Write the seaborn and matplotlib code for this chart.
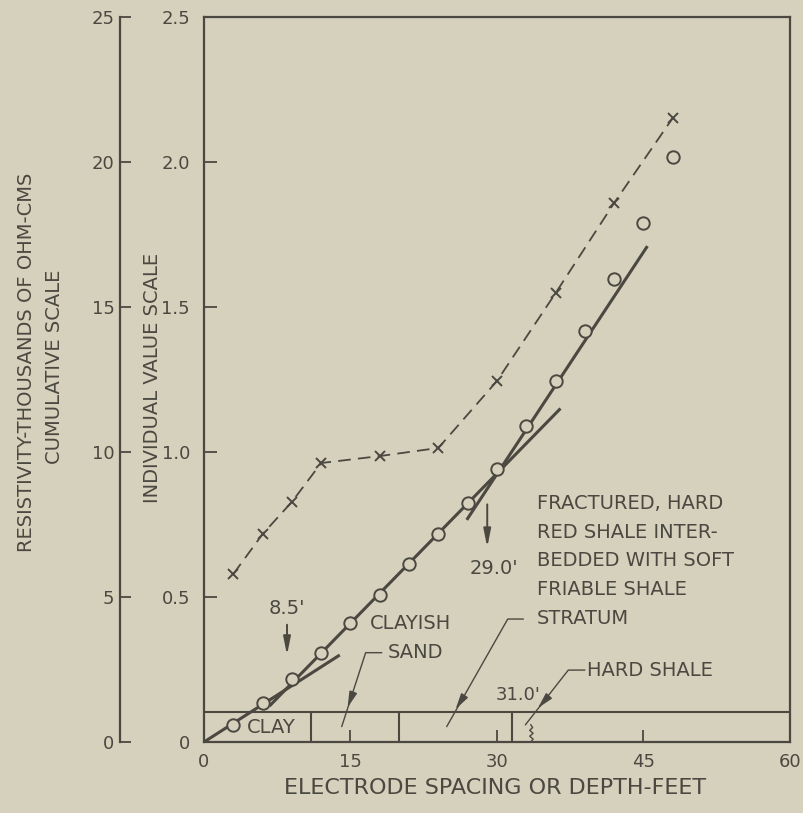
import numpy as np
import pandas as pd
import seaborn as sns
import matplotlib.pyplot as plt

# cumulative resistivity (open circles) - plotted on the individual scale (x10 = cumulative)
depth_cum = [3, 6, 9, 12, 15, 18, 21, 24, 27, 30, 33, 36, 39, 42, 45, 48]
cum_values = [0.059, 0.134, 0.217, 0.307, 0.410, 0.507, 0.614, 0.717, 0.824,
              0.941, 1.090, 1.245, 1.417, 1.597, 1.790, 2.017]

# individual values (x marks, dashed)
depth_ind = [3, 6, 9, 12, 18, 24, 30, 36, 42, 48]
ind_values = [0.579, 0.717, 0.828, 0.962, 0.986, 1.014, 1.245, 1.548, 1.859, 2.152]

# straight-line fits drawn through the cumulative points
clay_fit_x, clay_fit_y = [0, 13.9], [0, 0.30]
sand_fit_x, sand_fit_y = [6.7, 36.5], [0.124, 1.15]
shale_fit_x, shale_fit_y = [26.9, 45.4], [0.766, 1.71]

# strata strip at the bottom
strip_top = 0.103
strata_bounds = [11, 20, 31.5]

x_ticks = [0, 15, 30, 45, 60]
y_ticks = [0, 0.5, 1.0, 1.5, 2.0, 2.5]
y_ticklabels = ["0", "0.5", "1.0", "1.5", "2.0", "2.5"]
cum_ticks = [0, 5, 10, 15, 20, 25]

bg = "#d6d1bd"
ink = "#4a4840"

sns.set_theme(style="ticks")
plt.rcParams["font.family"] = ["DejaVu Sans"]
plt.rcParams["text.color"] = ink
plt.rcParams["axes.edgecolor"] = ink
plt.rcParams["xtick.color"] = ink
plt.rcParams["ytick.color"] = ink

fig = plt.figure(figsize=(8.04, 8.13), dpi=100, facecolor=bg)
W, H = 804, 813
bottom = (H - 742) / H
height = (742 - 17) / H
ax = fig.add_axes([204 / W, bottom, 586 / W, height])
ax.set_facecolor(bg)

# individual value curve
sns.lineplot(x=depth_ind, y=ind_values, ax=ax, color=ink, linewidth=1.3,
             linestyle=(0, (7, 4)), marker="x", markersize=6.5,
             markeredgewidth=1.4, markeredgecolor=ink, sort=False)

# fitted lines
for fx, fy in [(clay_fit_x, clay_fit_y), (sand_fit_x, sand_fit_y), (shale_fit_x, shale_fit_y)]:
    ax.plot(fx, fy, color=ink, linewidth=2.2, solid_capstyle="butt", zorder=3)

# cumulative points
sns.scatterplot(x=depth_cum, y=cum_values, ax=ax, marker="o", s=80,
                facecolor=bg, edgecolor=ink, linewidth=1.4, zorder=5)

# strata strip
ax.axhline(strip_top, color=ink, linewidth=1.5, zorder=2)
ax.vlines(strata_bounds, 0, strip_top, color=ink, linewidth=1.5, zorder=2)
ax.text(6.9, 0.05, "CLAY", fontsize=14, ha="center", va="center")

# small fracture squiggle under the hard-shale leader
sq_y = np.linspace(0, 0.06, 7)
sq_x = 33.45 + np.array([0, 0.25, -0.1, 0.25, -0.1, 0.2, 0])
ax.plot(sq_x, sq_y, color=ink, linewidth=1.0)

# depth arrows
arr = dict(arrowstyle="-|>,head_length=0.9,head_width=0.18", color=ink, lw=1.4)
ax.annotate("", xy=(8.5, 0.29), xytext=(8.5, 0.414), arrowprops=arr)
ax.text(8.5, 0.462, "8.5'", fontsize=14, ha="center", va="center")
ax.annotate("", xy=(29.0, 0.662), xytext=(29.0, 0.829), arrowprops=arr)
ax.text(29.7, 0.597, "29.0'", fontsize=14, ha="center", va="center")

# labels with leaders
ax.text(17.0, 0.41, "CLAYISH", fontsize=14, ha="left", va="center")
ax.text(18.8, 0.31, "SAND", fontsize=14, ha="left", va="center")
frac_lines = ["FRACTURED, HARD", "RED SHALE INTER-", "BEDDED WITH SOFT",
              "FRIABLE SHALE", "STRATUM"]
for i, line in enumerate(frac_lines):
    ax.text(34.1, 0.823 - i * 0.099, line, fontsize=14, ha="left", va="center")
ax.text(39.2, 0.248, "HARD SHALE", fontsize=14, ha="left", va="center")
ax.text(29.9, 0.162, "31.0'", fontsize=13, ha="left", va="center")

leaders = [
    ([18.2, 16.55, 14.1], [0.308, 0.308, 0.053], (14.6, 0.11)),
    ([32.7, 31.1, 24.85], [0.424, 0.424, 0.053], (25.6, 0.105)),
    ([39.0, 37.3, 32.9], [0.248, 0.248, 0.059], (34.0, 0.11)),
]
lead_arr = dict(arrowstyle="-|>,head_length=0.8,head_width=0.2", color=ink, lw=1.0)
for lx, ly, tip in leaders:
    ax.plot(lx, ly, color=ink, linewidth=1.0)
    t = (tip[0] - lx[1]) / (lx[2] - lx[1])
    start = (lx[1] + (t - 0.15) * (lx[2] - lx[1]), ly[1] + (t - 0.15) * (ly[2] - ly[1]))
    ax.annotate("", xy=tip, xytext=start, arrowprops=lead_arr)

# main axes styling
ax.set_xlim(0, 60)
ax.set_ylim(0, 2.5)
ax.set_xticks(x_ticks)
ax.set_xticklabels([str(v) for v in x_ticks])
ax.set_yticks(y_ticks)
ax.set_yticklabels(y_ticklabels)
ax.tick_params(axis="x", direction="in", length=9, width=1.3, pad=8, labelsize=13)
ax.tick_params(axis="y", direction="in", length=9, width=1.3, pad=10, labelsize=13)
for sp in ax.spines.values():
    sp.set_visible(True)
    sp.set_linewidth(1.6)
ax.set_xlabel("")
ax.set_ylabel("")

# cumulative scale axis on the far left
ax_cum = fig.add_axes([120 / W, bottom, 0.01, height])
ax_cum.patch.set_visible(False)
ax_cum.set_ylim(0, 25)
ax_cum.set_yticks(cum_ticks)
ax_cum.set_yticklabels([str(v) for v in cum_ticks])
ax_cum.set_xticks([])
for name, sp in ax_cum.spines.items():
    sp.set_visible(name == "left")
    sp.set_linewidth(1.6)
ax_cum.tick_params(axis="y", direction="in", length=8, width=1.3, pad=4, labelsize=13)

# axis titles
fig.text(495 / W, 1 - 788 / H, "ELECTRODE SPACING OR DEPTH-FEET", fontsize=16,
         ha="center", va="center")
fig.text(153 / W, 1 - 378 / H, "INDIVIDUAL VALUE SCALE", fontsize=14,
         rotation=90, ha="center", va="center")
fig.text(55 / W, 1 - 367 / H, "CUMULATIVE SCALE", fontsize=14,
         rotation=90, ha="center", va="center")
fig.text(27 / W, 1 - 362 / H, "RESISTIVITY-THOUSANDS OF OHM-CMS", fontsize=14,
         rotation=90, ha="center", va="center")

fig.savefig("out.png", dpi=100, facecolor=bg)
